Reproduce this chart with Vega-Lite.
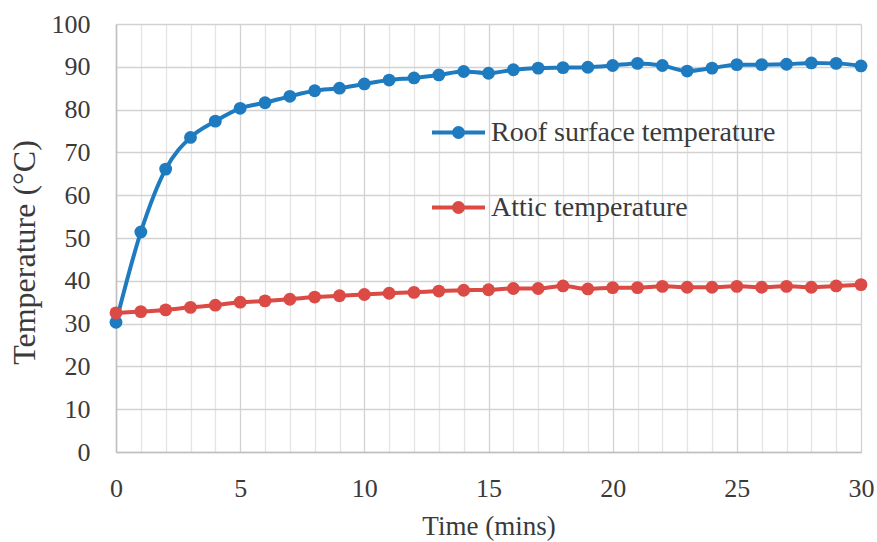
{
  "$schema": "https://vega.github.io/schema/vega-lite/v6.json",
  "width": 745,
  "height": 428,
  "autosize": {"type": "none"},
  "padding": {"left": 116, "top": 24, "right": 16, "bottom": 90},
  "background": "white",
  "config": {
    "view": {"stroke": null},
    "font": "Liberation Serif",
    "style": {"guide-label": {"font": "Liberation Serif"}, "guide-title": {"font": "Liberation Serif"}},
    "axis": {"labelFont": "Liberation Serif", "titleFont": "Liberation Serif", "labelColor": "#3a3a3a", "titleColor": "#3a3a3a", "titleFontWeight": "normal"},
    "legend": {"labelFont": "Liberation Serif"}
  },
  "data": {"values": [
    {"t":0,"series":"Roof surface temperature","temp":30.3},
    {"t":1,"series":"Roof surface temperature","temp":51.4},
    {"t":2,"series":"Roof surface temperature","temp":66.1},
    {"t":3,"series":"Roof surface temperature","temp":73.5},
    {"t":4,"series":"Roof surface temperature","temp":77.3},
    {"t":5,"series":"Roof surface temperature","temp":80.3},
    {"t":6,"series":"Roof surface temperature","temp":81.6},
    {"t":7,"series":"Roof surface temperature","temp":83.1},
    {"t":8,"series":"Roof surface temperature","temp":84.4},
    {"t":9,"series":"Roof surface temperature","temp":85.0},
    {"t":10,"series":"Roof surface temperature","temp":86.0},
    {"t":11,"series":"Roof surface temperature","temp":86.9},
    {"t":12,"series":"Roof surface temperature","temp":87.4},
    {"t":13,"series":"Roof surface temperature","temp":88.1},
    {"t":14,"series":"Roof surface temperature","temp":88.9},
    {"t":15,"series":"Roof surface temperature","temp":88.5},
    {"t":16,"series":"Roof surface temperature","temp":89.3},
    {"t":17,"series":"Roof surface temperature","temp":89.7},
    {"t":18,"series":"Roof surface temperature","temp":89.8},
    {"t":19,"series":"Roof surface temperature","temp":89.9},
    {"t":20,"series":"Roof surface temperature","temp":90.3},
    {"t":21,"series":"Roof surface temperature","temp":90.8},
    {"t":22,"series":"Roof surface temperature","temp":90.3},
    {"t":23,"series":"Roof surface temperature","temp":89.0},
    {"t":24,"series":"Roof surface temperature","temp":89.7},
    {"t":25,"series":"Roof surface temperature","temp":90.5},
    {"t":26,"series":"Roof surface temperature","temp":90.5},
    {"t":27,"series":"Roof surface temperature","temp":90.6},
    {"t":28,"series":"Roof surface temperature","temp":90.9},
    {"t":29,"series":"Roof surface temperature","temp":90.8},
    {"t":30,"series":"Roof surface temperature","temp":90.2},
    {"t":0,"series":"Attic temperature","temp":32.5},
    {"t":1,"series":"Attic temperature","temp":32.8},
    {"t":2,"series":"Attic temperature","temp":33.2},
    {"t":3,"series":"Attic temperature","temp":33.8},
    {"t":4,"series":"Attic temperature","temp":34.3},
    {"t":5,"series":"Attic temperature","temp":35.0},
    {"t":6,"series":"Attic temperature","temp":35.3},
    {"t":7,"series":"Attic temperature","temp":35.7},
    {"t":8,"series":"Attic temperature","temp":36.2},
    {"t":9,"series":"Attic temperature","temp":36.5},
    {"t":10,"series":"Attic temperature","temp":36.8},
    {"t":11,"series":"Attic temperature","temp":37.1},
    {"t":12,"series":"Attic temperature","temp":37.3},
    {"t":13,"series":"Attic temperature","temp":37.6},
    {"t":14,"series":"Attic temperature","temp":37.8},
    {"t":15,"series":"Attic temperature","temp":37.9},
    {"t":16,"series":"Attic temperature","temp":38.2},
    {"t":17,"series":"Attic temperature","temp":38.2},
    {"t":18,"series":"Attic temperature","temp":38.8},
    {"t":19,"series":"Attic temperature","temp":38.1},
    {"t":20,"series":"Attic temperature","temp":38.4},
    {"t":21,"series":"Attic temperature","temp":38.4},
    {"t":22,"series":"Attic temperature","temp":38.7},
    {"t":23,"series":"Attic temperature","temp":38.5},
    {"t":24,"series":"Attic temperature","temp":38.5},
    {"t":25,"series":"Attic temperature","temp":38.7},
    {"t":26,"series":"Attic temperature","temp":38.5},
    {"t":27,"series":"Attic temperature","temp":38.7},
    {"t":28,"series":"Attic temperature","temp":38.5},
    {"t":29,"series":"Attic temperature","temp":38.8},
    {"t":30,"series":"Attic temperature","temp":39.1}
  ]},
  "encoding": {
    "x": {
      "field": "t", "type": "quantitative",
      "scale": {"domain": [0, 30], "nice": false, "zero": false},
      "axis": {
        "title": "Time (mins)",
        "values": [0,1,2,3,4,5,6,7,8,9,10,11,12,13,14,15,16,17,18,19,20,21,22,23,24,25,26,27,28,29,30],
        "labelExpr": "datum.value % 5 === 0 ? datum.label : ''",
        "labelFlush": false, "labelOverlap": false,
        "ticks": false, "tickSize": 0,
        "labelFont": "Liberation Serif", "titleFont": "Liberation Serif",
        "labelFontSize": 26, "labelBaseline": "alphabetic", "labelPadding": 44,
        "titleFontSize": 27, "titleBaseline": "alphabetic", "titleY": 82,
        "domainColor": "#bfbfbf", "domainWidth": 1.5,
        "gridColor": {"condition": {"test": "datum.value % 5 === 0", "value": "#d2d2d2"}, "value": "#e4e4e4"},
        "gridWidth": 1.3
      }
    },
    "y": {
      "field": "temp", "type": "quantitative",
      "scale": {"domain": [0, 100], "nice": false},
      "axis": {
        "title": "Temperature (°C)",
        "values": [0,10,20,30,40,50,60,70,80,90,100],
        "ticks": false, "tickSize": 0,
        "labelFont": "Liberation Serif", "titleFont": "Liberation Serif",
        "labelFontSize": 26, "labelPadding": 26, "labelBaseline": "middle",
        "titleFontSize": 32, "titleAngle": -90, "titleAlign": "center", "titleBaseline": "alphabetic",
        "titleX": -82, "titleY": 228,
        "domainColor": "#bfbfbf", "domainWidth": 1.5,
        "gridColor": "#d2d2d2", "gridWidth": 1.3
      }
    },
    "color": {
      "field": "series", "type": "nominal",
      "scale": {"domain": ["Roof surface temperature", "Attic temperature"], "range": ["#1F7BC0", "#DB4A44"]},
      "legend": {
        "title": null, "orient": "none", "legendX": 314, "legendY": 80,
        "padding": 0,
        "symbolType": "M-1,0L1,0M-0.17,0A0.17,0.17,0,1,0,0.17,0A0.17,0.17,0,1,0,-0.17,0Z",
        "symbolSize": 2809, "symbolStrokeWidth": 4,
        "labelFont": "Liberation Serif",
        "labelFontSize": 28, "labelColor": "#3a3a3a", "labelOffset": 4, "labelLimit": 500,
        "rowPadding": 32,
        "encode": {"symbols": {"update": {
          "fill": {"scale": "color", "field": "value"},
          "stroke": {"scale": "color", "field": "value"},
          "strokeWidth": {"value": 4}, "opacity": {"value": 1}
        }}}
      }
    }
  },
  "layer": [
    {"mark": {"type": "line", "interpolate": "monotone", "strokeWidth": 4}},
    {"mark": {"type": "point", "filled": true, "size": 165, "opacity": 1}}
  ]
}
